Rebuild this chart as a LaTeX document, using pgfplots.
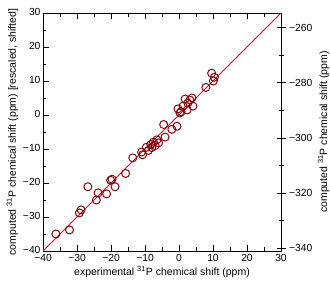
\documentclass[border=0pt]{standalone}
\usepackage{fontspec}
\setmainfont{Liberation Sans}
\usepackage{pgfplots}
\pgfplotsset{compat=1.18}
\definecolor{mk}{RGB}{130,8,12}
\definecolor{ln}{RGB}{238,0,55}
\begin{document}
\begin{tikzpicture}
\useasboundingbox (-43pt,-33pt) rectangle (287pt,251pt);
\begin{axis}[
  at={(0,0)}, anchor=south west, scale only axis, width=238pt, height=238pt,
  xmin=-40, xmax=30, ymin=-40, ymax=30,
  xtick={-40,-30,...,30}, ytick={-40,-30,...,30},
  xticklabels={−40,−30,−20,−10,0,10,20,30},
  yticklabels={−40,−30,−20,−10,0,10,20,30},
  minor tick num=1,
  xtick pos=both, ytick pos=left, tick align=inside,
  major tick length=6pt, minor tick length=3.5pt,
  every tick/.style={black, line width=0.6pt},
  axis line style={line width=0.6pt},
  ticklabel style={font=\fontsize{10.3}{12}\selectfont},
  yticklabel style={xshift=1pt, yshift=1pt},
  xticklabel style={yshift=0pt},
  label style={font=\fontsize{10.5}{12}\selectfont},
  xlabel={experimental \textsuperscript{31}P chemical shift (ppm)},
  ylabel={computed \textsuperscript{31}P chemical shift (ppm) [rescaled, shifted]},
  xlabel style={yshift=2pt},
  ylabel style={yshift=-2pt},
]
\addplot[ln, line width=0.9pt, no marks] coordinates {(-40,-40) (30,30)};
\addplot[only marks, mark=o, mark size=4pt, mark options={mk, line width=1pt}] coordinates {
(-36.2,-35.0) (-32.2,-33.8) (-29.3,-28.8) (-28.8,-27.9) (-26.8,-21.1)
(-24.3,-25.0) (-23.8,-22.9) (-21.3,-23.2) (-20.1,-19.2) (-19.7,-18.9)
(-18.8,-21.1) (-15.7,-17.2) (-13.6,-12.6) (-11.0,-10.9) (-10.7,-11.7)
(-9.6,-9.5) (-9.0,-10.4) (-8.3,-8.7) (-7.5,-8.0) (-7.0,-9.0)
(-6.5,-7.3) (-6.0,-8.2) (-8.0,-9.6) (-4.1,-6.5) (-4.5,-2.8)
(-2.1,-4.2) (-0.6,-3.3) (-0.3,1.8) (0.3,0.6) (1.2,2.6)
(1.8,4.7) (2.6,3.5) (3.2,4.4) (3.8,5.0) (4.1,2.6)
(2.4,1.5) (0.6,1.0) (7.9,8.1) (9.6,12.3) (10.4,11.1) (10.1,10.0)
};
\end{axis}
\begin{axis}[
  at={(0,0)}, anchor=south west, scale only axis, width=238pt, height=238pt,
  xmin=-40, xmax=30, ymin=-341.09, ymax=-254.66,
  axis x line=none, axis y line*=right,
  ytick={-340,-320,...,-260},
  yticklabels={−340,−320,−300,−280,−260},
  minor tick num=1,
  tick align=center,
  major tick length=9pt, minor tick length=5pt,
  every tick/.style={black, line width=0.6pt},
  axis line style={line width=0.6pt},
  ticklabel style={font=\fontsize{10.3}{12}\selectfont},
  label style={font=\fontsize{10.5}{12}\selectfont},
  ylabel={computed \textsuperscript{31}P chemical shift (ppm)},
  ylabel style={yshift=1pt},
]
\end{axis}
\end{tikzpicture}
\end{document}
